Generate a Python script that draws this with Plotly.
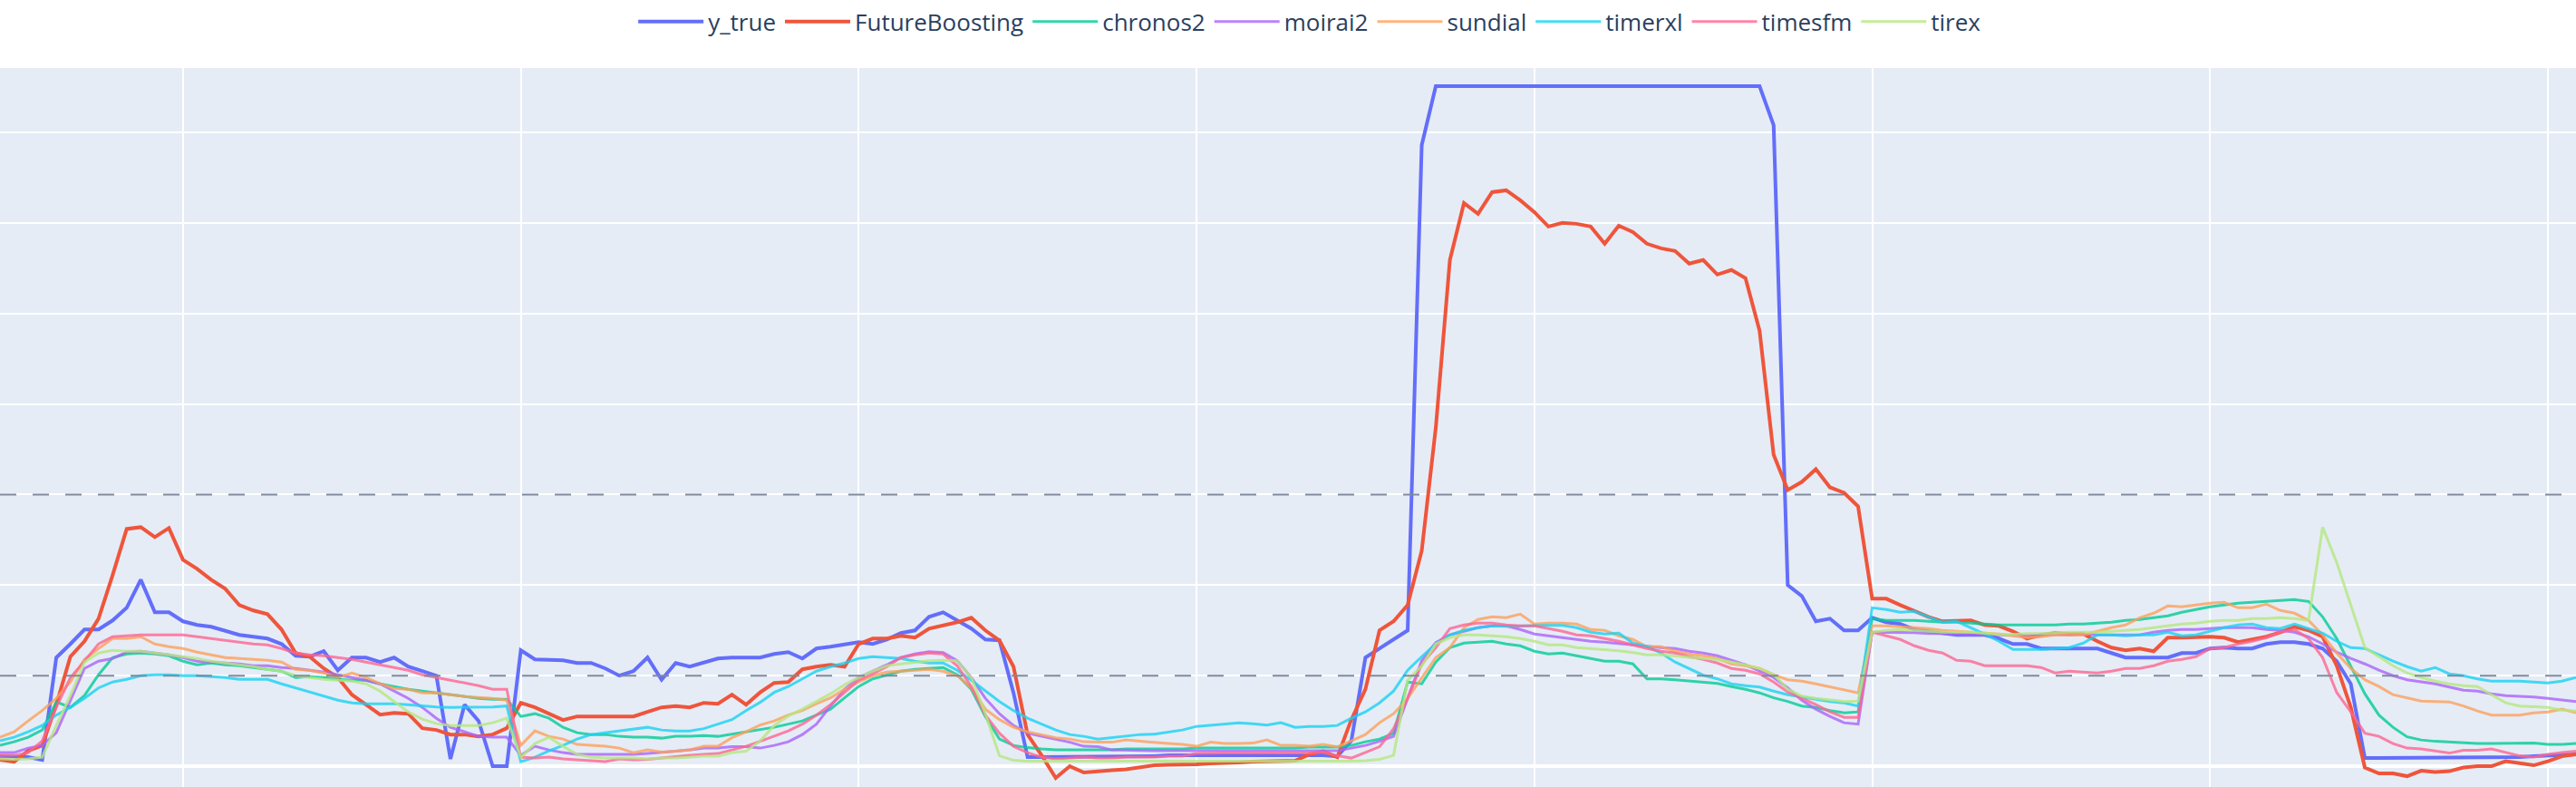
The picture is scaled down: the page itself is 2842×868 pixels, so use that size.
import pandas as pd
import plotly.graph_objects as go

# ---------------- data (hourly, 184 points) ----------------
start = "2024-03-04 11:00"
times = pd.date_range(start, periods=184, freq="h")

y_true = (
    [0.11, 0.10, 0.10, 0.07, 1.20, 1.35, 1.51, 1.51, 1.61, 1.75, 2.06, 1.70, 1.70, 1.60, 1.56, 1.54,
     1.49, 1.45, 1.43, 1.41, 1.35, 1.22, 1.21, 1.27, 1.06, 1.20, 1.20, 1.15, 1.20, 1.10, 1.05, 1.00,
     0.08, 0.68, 0.50, 0.0, 0.0, 1.28, 1.18, 1.18, 1.17, 1.14, 1.14, 1.08, 1.00, 1.05]
    + [1.20, 0.955, 1.14, 1.10, 1.15, 1.19, 1.20, 1.20, 1.20, 1.24, 1.26, 1.19, 1.30, 1.32, 1.35, 1.37,
       1.35, 1.40, 1.47, 1.50, 1.65, 1.70, 1.61, 1.52, 1.40, 1.39, 0.81, 0.10, 0.10, 0.10, 0.10, 0.10]
    + [0.10, 0.10, 0.11, 0.11, 0.11, 0.12, 0.12, 0.13, 0.13, 0.13, 0.13, 0.13, 0.13, 0.13, 0.12, 0.12,
       0.12, 0.11, 0.28, 1.20, 1.30, 1.40, 1.50, 6.86]
    + [7.51] * 24
    + [7.08, 2.00, 1.88, 1.60, 1.63, 1.50, 1.50, 1.64, 1.59, 1.57, 1.51, 1.49, 1.46, 1.45, 1.45, 1.45,
       1.41, 1.35, 1.35, 1.30, 1.30, 1.30]
    + [1.30, 1.30, 1.25, 1.20, 1.20, 1.20, 1.20, 1.25, 1.25, 1.30, 1.31, 1.30, 1.30, 1.35, 1.37, 1.37,
       1.35, 1.30, 1.16, 0.91]
    + [0.09] * 11 + [0.10, 0.11, 0.12, 0.12, 0.13]
)

future_boosting = (
    [0.07, 0.05, 0.17, 0.23, 0.68, 1.21, 1.38, 1.63, 2.11, 2.62, 2.64, 2.53, 2.63, 2.28, 2.18, 2.06,
     1.96, 1.78, 1.72, 1.68, 1.51, 1.25, 1.21, 1.08, 0.98, 0.79, 0.68, 0.57, 0.59, 0.58, 0.42, 0.40,
     0.35, 0.35, 0.33, 0.35, 0.42, 0.70, 0.65, 0.58, 0.51, 0.55, 0.55, 0.55, 0.56, 0.55]
    + [0.60, 0.65, 0.665, 0.65, 0.70, 0.69, 0.79, 0.68, 0.815, 0.92, 0.93, 1.07, 1.10, 1.12, 1.10, 1.35,
       1.41, 1.41, 1.44, 1.42, 1.52, 1.55, 1.59, 1.64, 1.50, 1.39, 1.10, 0.35, 0.12, -0.13, 0.0, -0.07]
    + [-0.055, -0.045, -0.035, -0.015, 0.01, 0.015, 0.015, 0.02, 0.03, 0.03, 0.04, 0.05, 0.055, 0.055,
       0.06, 0.13, 0.165, 0.10, 0.515, 0.85, 1.50, 1.60, 1.78, 2.38]
    + [3.74, 5.59, 6.22, 6.10, 6.34, 6.36, 6.25, 6.12, 5.96, 6.00, 5.99, 5.96, 5.77, 5.97, 5.90, 5.77,
       5.72, 5.69, 5.55, 5.59, 5.43, 5.48, 5.39, 4.81, 3.44, 3.05, 3.14, 3.28, 3.08]
    + [3.02, 2.87, 1.85, 1.85, 1.78, 1.71, 1.65, 1.60, 1.61, 1.61, 1.56, 1.55, 1.49, 1.41, 1.45, 1.47, 1.46]
    + [1.46, 1.38, 1.31, 1.28, 1.30, 1.27, 1.42, 1.42, 1.43, 1.43, 1.42, 1.37, 1.40, 1.43, 1.48, 1.54,
       1.50, 1.43, 1.11, 0.65, -0.015, -0.08, -0.08, -0.11, -0.05, -0.065, -0.055, -0.015, 0.0, 0.0,
       0.055, 0.03, 0.01, 0.055, 0.11, 0.13]
)

chronos2 = (
    [0.23, 0.27, 0.32, 0.40, 0.71, 0.65, 0.78, 1.01, 1.20, 1.24, 1.25, 1.24, 1.22, 1.16, 1.12, 1.14,
     1.12, 1.11, 1.09, 1.07, 1.05, 0.98, 0.99, 0.98, 0.96, 0.95, 0.95, 0.91, 0.88, 0.85, 0.83, 0.81,
     0.79, 0.77, 0.75, 0.74, 0.74, 0.55, 0.58, 0.53, 0.43, 0.37, 0.35, 0.35, 0.33, 0.32]
    + [0.32, 0.31, 0.33, 0.33, 0.34, 0.33, 0.355, 0.375, 0.40, 0.43, 0.465, 0.50, 0.565, 0.63, 0.755, 0.88,
       0.965, 1.01, 1.05, 1.07, 1.08, 1.09, 1.01, 0.85, 0.55, 0.30, 0.23, 0.205, 0.19, 0.18, 0.18, 0.18]
    + [0.18, 0.18, 0.19, 0.19, 0.19, 0.19, 0.19, 0.20, 0.20, 0.20, 0.20, 0.20, 0.20, 0.20, 0.20, 0.21,
       0.21, 0.21, 0.23, 0.27, 0.30, 0.365, 0.93, 0.91, 1.15, 1.31, 1.36, 1.37, 1.38, 1.35, 1.33, 1.27, 1.24]
    + [1.25, 1.22, 1.19, 1.16, 1.16, 1.13, 0.965, 0.965, 0.955, 0.94, 0.93, 0.915, 0.88, 0.85, 0.81, 0.755,
       0.715, 0.665, 0.65, 0.615, 0.59, 0.60, 1.63, 1.61, 1.61, 1.61, 1.60, 1.59, 1.59, 1.58, 1.57, 1.56,
       1.56, 1.56, 1.56, 1.56, 1.57]
    + [1.57, 1.58, 1.59, 1.61, 1.62, 1.64, 1.66, 1.70, 1.73, 1.76, 1.78, 1.80, 1.81, 1.82, 1.83, 1.84,
       1.82, 1.65, 1.41, 1.11, 0.80, 0.565, 0.43, 0.325, 0.29, 0.275, 0.265, 0.255, 0.25, 0.25, 0.25,
       0.25, 0.255, 0.24, 0.24, 0.25]
)

moirai2 = (
    [0.15, 0.15, 0.20, 0.23, 0.37, 0.72, 1.08, 1.16, 1.19, 1.26, 1.27, 1.25, 1.23, 1.20, 1.16, 1.15,
     1.14, 1.13, 1.11, 1.11, 1.09, 1.08, 1.06, 1.04, 1.01, 0.98, 0.95, 0.91, 0.83, 0.75, 0.65, 0.53,
     0.43, 0.38, 0.33, 0.32, 0.32, 0.12, 0.22, 0.18, 0.15, 0.13, 0.13, 0.13, 0.13, 0.13]
    + [0.14, 0.15, 0.165, 0.18, 0.20, 0.20, 0.215, 0.215, 0.20, 0.23, 0.27, 0.35, 0.465, 0.665, 0.85, 0.98,
       1.05, 1.12, 1.20, 1.24, 1.265, 1.255, 1.165, 0.98, 0.75, 0.58, 0.45, 0.365, 0.33, 0.30, 0.265, 0.22]
    + [0.215, 0.18, 0.175] + [0.17] * 15
    + [0.20, 0.23, 0.275, 0.33, 0.75, 1.165, 1.365, 1.45, 1.49, 1.53, 1.55, 1.55, 1.51, 1.46, 1.44]
    + [1.42, 1.40, 1.38, 1.37, 1.355, 1.34, 1.32, 1.31, 1.30, 1.27, 1.25, 1.22, 1.17, 1.12, 1.05, 0.98,
       0.865, 0.73, 0.63, 0.55, 0.48, 0.465, 1.48, 1.48, 1.48, 1.475, 1.465, 1.465, 1.455, 1.45, 1.45,
       1.45, 1.445, 1.445, 1.45, 1.455, 1.45]
    + [1.46, 1.45, 1.45, 1.45, 1.45, 1.48, 1.50, 1.51, 1.51, 1.52, 1.53, 1.53, 1.53, 1.51, 1.50, 1.48,
       1.43, 1.35, 1.26, 1.19, 1.13, 1.06, 1.00, 0.955, 0.93, 0.91, 0.875, 0.84, 0.83, 0.80, 0.78,
       0.775, 0.765, 0.75, 0.73, 0.715]
)

sundial = (
    [0.32, 0.38, 0.50, 0.615, 0.75, 0.93, 1.18, 1.30, 1.41, 1.41, 1.43, 1.35, 1.32, 1.30, 1.26, 1.23,
     1.20, 1.19, 1.18, 1.17, 1.15, 1.07, 1.06, 1.03, 0.98, 1.03, 0.98, 0.91, 0.86, 0.85, 0.81, 0.81,
     0.79, 0.77, 0.76, 0.75, 0.73, 0.23, 0.39, 0.33, 0.30, 0.24, 0.23, 0.22, 0.20, 0.15]
    + [0.18, 0.155, 0.165, 0.18, 0.22, 0.22, 0.315, 0.38, 0.455, 0.50, 0.565, 0.615, 0.69, 0.755, 0.85, 0.93,
       1.00, 1.04, 1.05, 1.06, 1.07, 1.05, 1.00, 0.865, 0.63, 0.515, 0.43, 0.38, 0.35, 0.315, 0.30, 0.27]
    + [0.265, 0.265, 0.29, 0.275, 0.265, 0.25, 0.24, 0.22, 0.265, 0.25, 0.25, 0.255, 0.29, 0.23, 0.23, 0.22,
       0.24, 0.215, 0.28, 0.35, 0.48, 0.58, 0.75, 0.98, 1.20, 1.31, 1.53, 1.62, 1.65, 1.64, 1.68, 1.57, 1.58]
    + [1.58, 1.57, 1.51, 1.50, 1.44, 1.40, 1.32, 1.32, 1.27, 1.24, 1.22, 1.19, 1.13, 1.11, 1.08, 1.01,
       0.955, 0.94, 0.91, 0.875, 0.84, 0.81, 1.55, 1.55, 1.54, 1.53, 1.52, 1.50, 1.49, 1.48, 1.47, 1.46,
       1.44, 1.42, 1.43, 1.45, 1.45]
    + [1.45, 1.49, 1.53, 1.56, 1.64, 1.69, 1.77, 1.76, 1.78, 1.80, 1.81, 1.75, 1.75, 1.79, 1.72, 1.69,
       1.61, 1.45, 1.25, 1.08, 0.955, 0.88, 0.79, 0.755, 0.72, 0.715, 0.71, 0.665, 0.61, 0.565, 0.565,
       0.565, 0.59, 0.60, 0.63, 0.59]
)

timerxl = (
    [0.28, 0.32, 0.38, 0.45, 0.565, 0.65, 0.75, 0.865, 0.93, 0.96, 1.00, 1.01, 1.01, 1.00, 1.00, 0.99,
     0.98, 0.96, 0.96, 0.96, 0.91, 0.865, 0.82, 0.78, 0.73, 0.70, 0.69, 0.69, 0.69, 0.68, 0.665, 0.655,
     0.65, 0.65, 0.65, 0.655, 0.665, 0.05, 0.10, 0.17, 0.23, 0.30, 0.35, 0.37, 0.39, 0.415]
    + [0.43, 0.40, 0.39, 0.39, 0.415, 0.465, 0.515, 0.615, 0.705, 0.815, 0.88, 0.965, 1.05, 1.10, 1.14, 1.19,
       1.21, 1.20, 1.19, 1.16, 1.14, 1.14, 1.06, 0.95, 0.83, 0.715, 0.615, 0.53, 0.465, 0.40, 0.35, 0.33]
    + [0.30, 0.315, 0.33, 0.35, 0.355, 0.375, 0.40, 0.44, 0.455, 0.47, 0.48, 0.47, 0.455, 0.48, 0.43, 0.44,
       0.44, 0.45, 0.53, 0.60, 0.70, 0.83, 1.06, 1.21, 1.35, 1.45, 1.50, 1.53, 1.55, 1.545, 1.55, 1.555, 1.555]
    + [1.555, 1.53, 1.48, 1.46, 1.47, 1.36, 1.32, 1.25, 1.15, 1.08, 1.005, 0.965, 0.91, 0.89, 0.875, 0.83,
       0.79, 0.765, 0.74, 0.715, 0.70, 0.665, 1.75, 1.73, 1.70, 1.71, 1.65, 1.59, 1.60, 1.53, 1.46, 1.38,
       1.29, 1.29, 1.29, 1.30, 1.31]
    + [1.36, 1.45, 1.45, 1.44, 1.45, 1.45, 1.48, 1.44, 1.45, 1.49, 1.53, 1.56, 1.57, 1.53, 1.52, 1.57,
       1.52, 1.47, 1.38, 1.31, 1.30, 1.23, 1.16, 1.10, 1.05, 1.09, 1.02, 1.00, 0.965, 0.94, 0.94, 0.94,
       0.93, 0.92, 0.94, 0.98]
)

timesfm = (
    [0.12, 0.12, 0.15, 0.28, 0.65, 0.98, 1.16, 1.35, 1.43, 1.44, 1.45, 1.45, 1.45, 1.45, 1.43, 1.41,
     1.39, 1.37, 1.35, 1.34, 1.30, 1.25, 1.23, 1.22, 1.20, 1.18, 1.15, 1.12, 1.09, 1.06, 1.01, 0.98,
     0.95, 0.92, 0.89, 0.85, 0.85, 0.10, 0.09, 0.10, 0.08, 0.07, 0.06, 0.05, 0.08, 0.07]
    + [0.075, 0.09, 0.11, 0.12, 0.13, 0.14, 0.18, 0.22, 0.275, 0.33, 0.39, 0.465, 0.565, 0.68, 0.815, 0.95,
       1.02, 1.10, 1.20, 1.23, 1.25, 1.24, 1.11, 0.88, 0.565, 0.365, 0.22, 0.15, 0.10, 0.08, 0.09, 0.10]
    + [0.09, 0.09, 0.10, 0.10, 0.10, 0.11, 0.11, 0.14, 0.145, 0.145, 0.145, 0.145, 0.145, 0.145, 0.145,
       0.145, 0.155, 0.115, 0.09, 0.15, 0.215, 0.415, 0.75, 1.13, 1.31, 1.52, 1.56, 1.58, 1.58, 1.56,
       1.55, 1.55, 1.52]
    + [1.49, 1.45, 1.44, 1.41, 1.38, 1.34, 1.30, 1.27, 1.25, 1.21, 1.18, 1.14, 1.08, 1.06, 1.02, 0.93,
       0.82, 0.75, 0.68, 0.60, 0.54, 0.54, 1.48, 1.44, 1.40, 1.33, 1.28, 1.25, 1.17, 1.16, 1.11, 1.11,
       1.11, 1.11, 1.09, 1.03, 1.05]
    + [1.04, 1.03, 1.05, 1.08, 1.08, 1.11, 1.16, 1.18, 1.21, 1.30, 1.31, 1.35, 1.38, 1.42, 1.48, 1.51,
       1.41, 1.20, 0.815, 0.60, 0.365, 0.33, 0.25, 0.20, 0.19, 0.165, 0.145, 0.175, 0.175, 0.19, 0.15,
       0.115, 0.10, 0.13, 0.15, 0.165]
)

tirex = (
    [0.08, 0.075, 0.08, 0.10, 0.45, 0.78, 1.15, 1.25, 1.28, 1.27, 1.27, 1.25, 1.23, 1.21, 1.19, 1.16,
     1.14, 1.12, 1.10, 1.07, 1.05, 1.00, 0.98, 0.96, 0.95, 0.94, 0.91, 0.83, 0.715, 0.60, 0.52, 0.47,
     0.45, 0.45, 0.45, 0.48, 0.53, 0.10, 0.25, 0.32, 0.22, 0.13, 0.10, 0.09, 0.09, 0.09]
    + [0.08, 0.09, 0.09, 0.10, 0.11, 0.11, 0.15, 0.165, 0.28, 0.45, 0.555, 0.63, 0.715, 0.80, 0.90, 0.98,
       1.05, 1.11, 1.13, 1.15, 1.165, 1.17, 1.165, 0.98, 0.58, 0.115, 0.065, 0.055, 0.055, 0.05, 0.05, 0.05]
    + [0.05] * 18
    + [0.055, 0.06, 0.075, 0.12, 0.95, 1.11, 1.35, 1.42, 1.45, 1.45, 1.44, 1.43, 1.41, 1.38, 1.34]
    + [1.34, 1.31, 1.30, 1.29, 1.275, 1.255, 1.23, 1.23, 1.215, 1.20, 1.19, 1.18, 1.15, 1.12, 1.08, 1.015,
       0.85, 0.775, 0.75, 0.73, 0.715, 0.72, 1.48, 1.50, 1.51, 1.50, 1.49, 1.48, 1.48, 1.48, 1.47, 1.455,
       1.455, 1.465, 1.465, 1.475, 1.48]
    + [1.48, 1.48, 1.49, 1.50, 1.51, 1.53, 1.55, 1.57, 1.58, 1.60, 1.61, 1.61, 1.63, 1.63, 1.64, 1.63,
       1.61, 2.64, 2.25, 1.78, 1.31, 1.21, 1.11, 1.03, 0.98, 0.94, 0.91, 0.89, 0.88, 0.79, 0.70, 0.665,
       0.655, 0.65, 0.62, 0.61]
)

threshold_lines = [1, 3]

series = [
    ("y_true", y_true, "#636efa", 4),
    ("FutureBoosting", future_boosting, "#EF553B", 4),
    ("chronos2", chronos2, "#00cc96", 3),
    ("moirai2", moirai2, "#ab63fa", 3),
    ("sundial", sundial, "#FFA15A", 3),
    ("timerxl", timerxl, "#19d3f3", 3),
    ("timesfm", timesfm, "#FF6692", 3),
    ("tirex", tirex, "#B6E880", 3),
]

fig = go.Figure()
for name, vals, color, w in series:
    n = min(len(vals), len(times))
    fig.add_trace(go.Scatter(
        x=times[:n], y=vals[:n], mode="lines", name=name,
        line=dict(color=color, width=w),
        opacity=1.0 if w == 4 else 0.8,
    ))

for yv in threshold_lines:
    fig.add_hline(y=yv, line=dict(color="#7f8a9c", width=2, dash="18px,18px"))

fig.update_layout(
    width=2842, height=868,
    margin=dict(l=0, r=0, t=72, b=0, pad=0),
    font=dict(family='"Open Sans", verdana, arial, sans-serif', size=26),
    legend=dict(orientation="h", x=0.5085, xanchor="center", y=1.035, yanchor="bottom",
                font=dict(size=26), itemwidth=72),
    showlegend=True,
)
fig.update_xaxes(
    range=[times[0], times[-1]], showticklabels=False,
    dtick=86400000, tick0="2024-03-04 00:00", gridwidth=2,
)
fig.update_yaxes(
    range=[-0.2295, 7.711], showticklabels=False, dtick=1, tick0=0,
    gridwidth=2, zerolinewidth=4,
)

fig.write_html(
    "out.html",
    config={"displayModeBar": False},
    post_script="document.body.style.margin='0';document.body.style.overflow='hidden';",
)
